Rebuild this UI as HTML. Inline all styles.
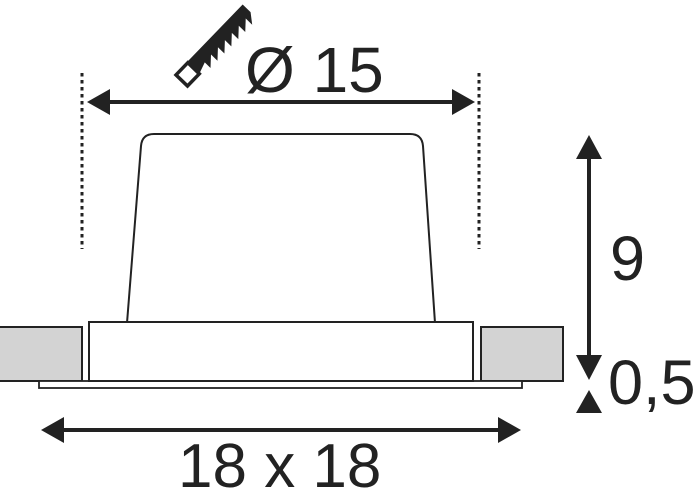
<!DOCTYPE html>
<html><head><meta charset="utf-8"><style>
html,body{margin:0;padding:0;background:#fff;}
svg{display:block;}
text{font-family:"Liberation Sans",sans-serif;fill:#222;}
</style></head><body>
<svg width="700" height="493" viewBox="0 0 700 493" xmlns="http://www.w3.org/2000/svg">
<line x1="82" y1="73" x2="82" y2="249" stroke="#222" stroke-width="3" stroke-dasharray="3.5,3.5"/>
<line x1="479" y1="73" x2="479" y2="249" stroke="#222" stroke-width="3" stroke-dasharray="3.5,3.5"/>
<g transform="translate(188,74) rotate(-46)">
  <rect x="-9" y="-8" width="17" height="16" fill="none" stroke="#222" stroke-width="3.5"/>
  <path d="M8,-9 L88,-9 L88,2 L80,12 L80,3 L70,12 L70,3 L60,12 L60,3 L50,12 L50,3 L40,12 L40,3 L30,12 L30,3 L20,12 L20,4 L8,8 Z" fill="#222"/>
</g>
<text x="245" y="92" font-size="64">Ø 15</text>
<line x1="100" y1="102" x2="462" y2="102" stroke="#222" stroke-width="4"/>
<polygon points="87,102 110,89 110,115" fill="#222"/>
<polygon points="475,102 452,89 452,115" fill="#222"/>
<path d="M127,323 L141,146 Q142,134 154,134 L410,134 Q422,134 423,146 L435,323" fill="#fff" stroke="#222" stroke-width="2"/>
<rect x="-2" y="327" width="84" height="54" fill="#d3d3d3" stroke="#222" stroke-width="2"/>
<rect x="481" y="327" width="82" height="54" fill="#d3d3d3" stroke="#222" stroke-width="2"/>
<rect x="39" y="381" width="483" height="7" fill="#fff" stroke="#222" stroke-width="1.8"/>
<rect x="89" y="322" width="384" height="59" fill="#fff" stroke="#222" stroke-width="2"/>
<line x1="589" y1="155" x2="589" y2="360" stroke="#222" stroke-width="4"/>
<polygon points="589,135 576,159 602,159" fill="#222"/>
<polygon points="589,380 576,355 602,355" fill="#222"/>
<polygon points="589,390 576,413 602,413" fill="#222"/>
<text x="610" y="280" font-size="63">9</text>
<text x="608" y="404" font-size="63">0,5</text>
<line x1="55" y1="430" x2="508" y2="430" stroke="#222" stroke-width="4"/>
<polygon points="41,430 64,417 64,443" fill="#222"/>
<polygon points="521,430 498,417 498,443" fill="#222"/>
<text x="178" y="487" font-size="62">18 x 18</text>
</svg>
</body></html>
